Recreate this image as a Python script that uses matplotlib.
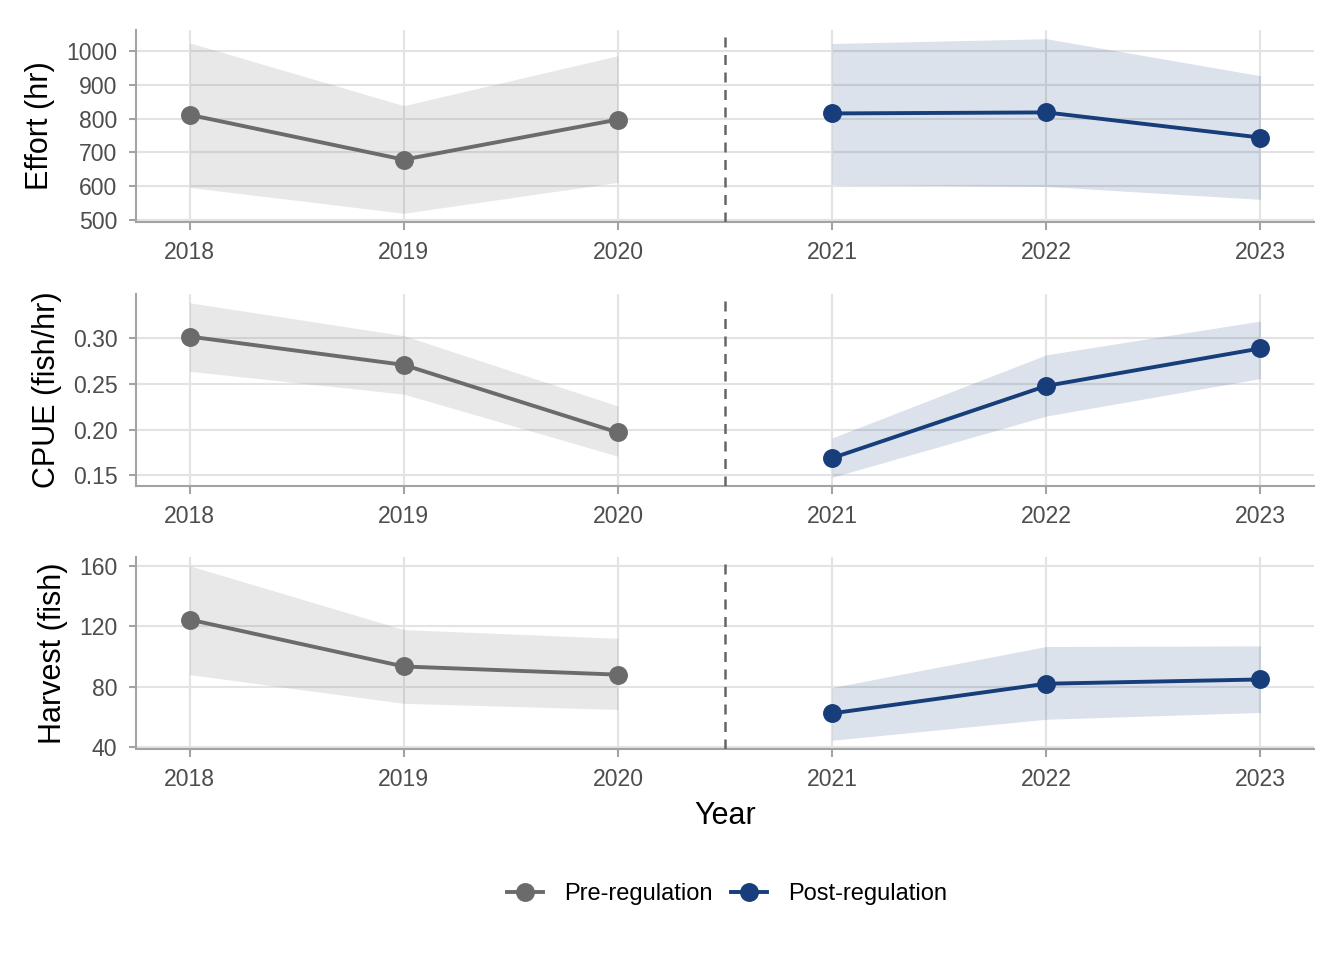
import matplotlib.pyplot as plt
from matplotlib.lines import Line2D

plt.rcParams['font.family'] = ['Liberation Sans', 'DejaVu Sans']

years_pre = [2018, 2019, 2020]
years_post = [2021, 2022, 2023]
all_years = years_pre + years_post

effort_pre = [811, 679, 797]
effort_pre_lo = [597, 521, 612]
effort_pre_hi = [1023, 838, 985]
effort_post = [815, 818, 744]
effort_post_lo = [606, 600, 562]
effort_post_hi = [1021, 1035, 926]

cpue_pre = [0.302, 0.271, 0.197]
cpue_pre_lo = [0.264, 0.239, 0.171]
cpue_pre_hi = [0.339, 0.303, 0.226]
cpue_post = [0.169, 0.248, 0.289]
cpue_post_lo = [0.148, 0.215, 0.256]
cpue_post_hi = [0.191, 0.282, 0.319]

harvest_pre = [124.4, 93.4, 88]
harvest_pre_lo = [88, 69, 65]
harvest_pre_hi = [160, 117.8, 112]
harvest_post = [62.4, 82, 84.8]
harvest_post_lo = [44.6, 58.5, 63]
harvest_post_hi = [79.5, 106.6, 107]

panels = [
    ("Effort (hr)", effort_pre, effort_pre_lo, effort_pre_hi,
     effort_post, effort_post_lo, effort_post_hi,
     [500, 600, 700, 800, 900, 1000], ["500", "600", "700", "800", "900", "1000"]),
    ("CPUE (fish/hr)", cpue_pre, cpue_pre_lo, cpue_pre_hi,
     cpue_post, cpue_post_lo, cpue_post_hi,
     [0.15, 0.20, 0.25, 0.30], ["0.15", "0.20", "0.25", "0.30"]),
    ("Harvest (fish)", harvest_pre, harvest_pre_lo, harvest_pre_hi,
     harvest_post, harvest_post_lo, harvest_post_hi,
     [40, 80, 120, 160], ["40", "80", "120", "160"]),
]

pre_col = "#6b6b6b"
post_col = "#173d7a"
grid_col = "#e3e3e3"
axis_col = "#a3a3a3"

fig = plt.figure(figsize=(6.72, 4.8), dpi=200)
left, right = 136 / 1344, 1314 / 1344
tops = [30, 294, 557]
bottoms = [222, 486, 749]

for i, (label, pre, pre_lo, pre_hi, post, post_lo, post_hi, yt, ytl) in enumerate(panels):
    t = 1 - tops[i] / 960
    b = 1 - bottoms[i] / 960
    ax = fig.add_axes([left, b, right - left, t - b])

    ax.fill_between(years_pre, pre_lo, pre_hi, color=pre_col, alpha=0.15, linewidth=0, zorder=2)
    ax.fill_between(years_post, post_lo, post_hi, color=post_col, alpha=0.15, linewidth=0, zorder=2)
    ax.plot(years_pre, pre, color=pre_col, lw=1.4, marker='o', ms=5.8, zorder=4)
    ax.plot(years_post, post, color=post_col, lw=1.4, marker='o', ms=5.8, zorder=4)
    ax.axvline(2020.5, color="#666666", lw=0.9, ls=(0, (4, 3)), zorder=3)

    lo = min(pre_lo + post_lo)
    hi = max(pre_hi + post_hi)
    pad = (hi - lo) * 0.05
    ax.set_ylim(lo - pad, hi + pad)
    ax.set_xlim(2017.75, 2023.25)

    ax.set_xticks(all_years)
    ax.set_xticklabels([str(y) for y in all_years])
    ax.set_yticks(yt)
    ax.set_yticklabels(ytl)

    ax.grid(True, color=grid_col, lw=0.75, zorder=0)
    ax.set_axisbelow(True)
    for s in ['top', 'right']:
        ax.spines[s].set_visible(False)
    for s in ['left', 'bottom']:
        ax.spines[s].set_color(axis_col)
        ax.spines[s].set_linewidth(0.75)
    ax.tick_params(axis='both', colors=axis_col, labelcolor="#4d4d4d",
                   labelsize=8.3, length=2.7, width=0.75)
    ax.tick_params(axis='x', pad=4.3)
    ax.tick_params(axis='y', pad=4.0)
    ax.set_ylabel(label, fontsize=11, color="black", labelpad=4)
    if i == 2:
        ax.set_xlabel("Year", fontsize=11, color="black", labelpad=3.5)

handles = [
    Line2D([], [], color=pre_col, lw=1.4, marker='o', ms=5.8),
    Line2D([], [], color=post_col, lw=1.4, marker='o', ms=5.8),
]
fig.legend(handles, ["Pre-regulation", "Post-regulation"], loc='center',
           bbox_to_anchor=(727 / 1344, 1 - 894 / 960), ncol=2, frameon=False,
           fontsize=8.5, handlelength=1.5, handletextpad=0.9, columnspacing=0.8)

fig.savefig("out.png", dpi=200)
